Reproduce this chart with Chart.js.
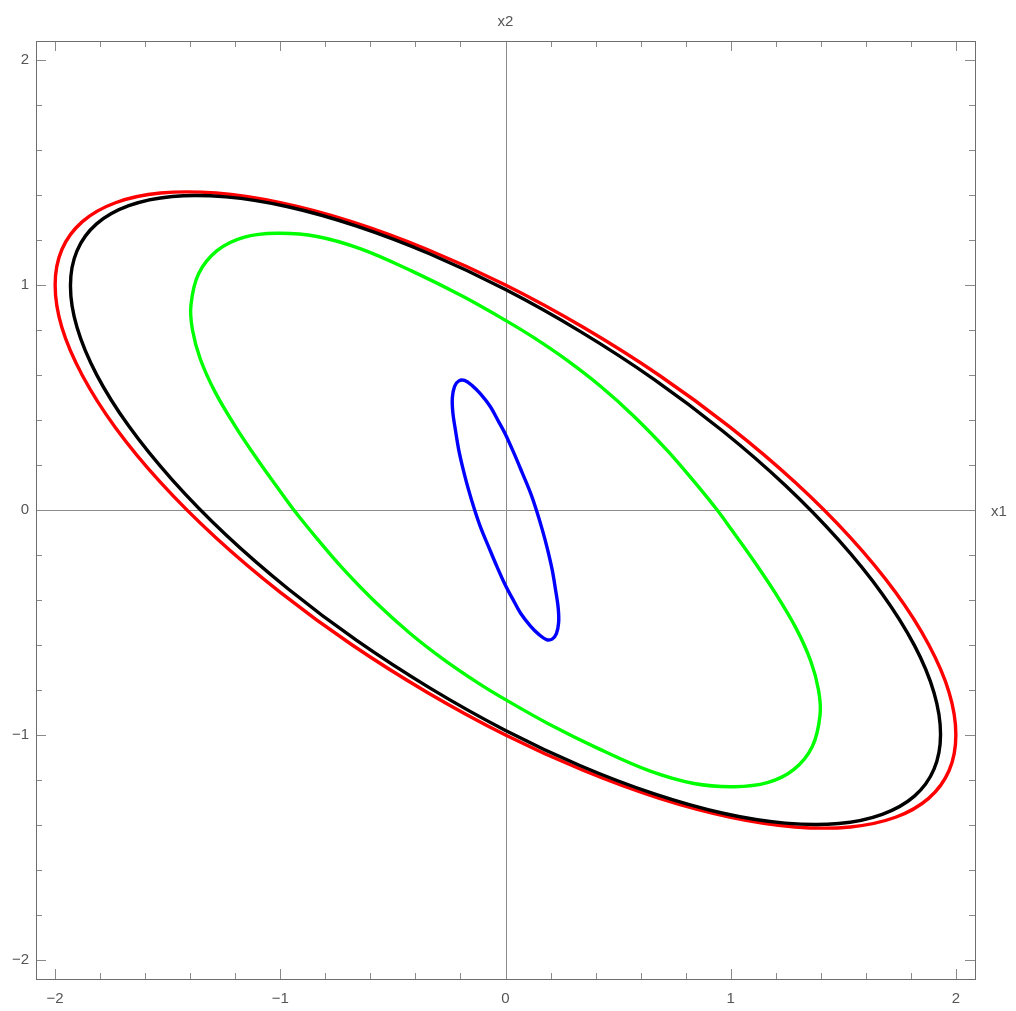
<!DOCTYPE html>
<html>
<head>
<meta charset="utf-8">
<script src="https://cdn.jsdelivr.net/npm/chart.js@4.4.1/dist/chart.umd.min.js"></script>
<style>
html,body{margin:0;padding:0;background:#ffffff;}
#wrap{width:1016px;height:1011px;}
</style>
</head>
<body>
<div id="wrap"><canvas id="c" width="1016" height="1011"></canvas></div>
<script>
// ---- data: [x1, x2] points along each closed curve ----
const redCurve = [
  [2.0,-1.0],[1.97,-0.811],[1.879,-0.598],[1.732,-0.366],[1.532,-0.123],[1.286,0.123],[1.0,0.366],[0.684,0.598],
  [0.347,0.811],[0.0,1.0],[-0.347,1.158],[-0.684,1.282],[-1.0,1.366],[-1.286,1.409],[-1.532,1.409],[-1.732,1.366],
  [-1.879,1.282],[-1.97,1.158],[-2.0,1.0],[-1.97,0.811],[-1.879,0.598],[-1.732,0.366],[-1.532,0.123],[-1.286,-0.123],
  [-1.0,-0.366],[-0.684,-0.598],[-0.347,-0.811],[0.0,-1.0],[0.347,-1.158],[0.684,-1.282],[1.0,-1.366],[1.286,-1.409],
  [1.532,-1.409],[1.732,-1.366],[1.879,-1.282],[1.97,-1.158]
];
const blackCurve = [
  [1.932,-0.997],[1.903,-0.812],[1.816,-0.602],[1.673,-0.373],[1.48,-0.134],[1.242,0.110],[0.966,0.350],[0.661,0.580],
  [0.335,0.792],[0.0,0.980],[-0.335,1.138],[-0.661,1.262],[-0.966,1.348],[-1.242,1.392],[-1.48,1.394],[-1.673,1.353],
  [-1.816,1.272],[-1.903,1.152],[-1.932,0.997],[-1.903,0.812],[-1.816,0.602],[-1.673,0.373],[-1.48,0.134],[-1.242,-0.110],
  [-0.966,-0.350],[-0.661,-0.580],[-0.335,-0.792],[0.0,-0.980],[0.335,-1.138],[0.661,-1.262],[0.966,-1.348],[1.242,-1.392],
  [1.48,-1.394],[1.673,-1.353],[1.816,-1.272],[1.903,-1.152]
];
const greenCurve = [
  [1.39,-0.80],[1.397,-0.91],[1.363,-1.05],[1.281,-1.153],[1.163,-1.212],[1.015,-1.23],[0.837,-1.216],[0.64,-1.16],
  [0.415,-1.062],[0.19,-0.95],[0.0,-0.843],[-0.126,-0.766],[-0.274,-0.665],[-0.422,-0.55],[-0.570,-0.417],
  [-0.719,-0.264],[-0.837,-0.127],[-0.94,0.0],[-1.0,0.082],[-1.1,0.222],[-1.2,0.372],[-1.29,0.525],[-1.355,0.67],
  [-1.39,0.80],[-1.397,0.91],[-1.363,1.05],[-1.281,1.153],[-1.163,1.212],[-1.015,1.23],[-0.837,1.216],[-0.64,1.16],
  [-0.415,1.062],[-0.19,0.95],[0.0,0.843],[0.126,0.766],[0.274,0.665],[0.422,0.55],[0.570,0.417],[0.719,0.264],
  [0.837,0.127],[0.94,0.0],[1.0,-0.082],[1.1,-0.222],[1.2,-0.372],[1.29,-0.525],[1.355,-0.67]
];
const blueCurve = [
  [-0.207,0.574],[-0.182,0.576],[-0.148,0.553],[-0.111,0.516],[-0.067,0.459],[-0.030,0.392],[0.0,0.336],[0.037,0.254],
  [0.074,0.166],[0.111,0.076],[0.137,0.0],[0.163,-0.086],[0.185,-0.168],[0.207,-0.264],[0.222,-0.353],[0.234,-0.435],
  [0.236,-0.50],[0.226,-0.55],[0.207,-0.574],[0.182,-0.576],[0.148,-0.553],[0.111,-0.516],[0.067,-0.459],[0.030,-0.392],
  [0.0,-0.336],[-0.037,-0.254],[-0.074,-0.166],[-0.111,-0.076],[-0.137,0.0],[-0.163,0.086],[-0.185,0.168],[-0.207,0.264],
  [-0.222,0.353],[-0.234,0.435],[-0.236,0.50],[-0.226,0.55]
];
const tickLabelValues = [-2, -1, 0, 1, 2];
const minorTickValues = [-1.8,-1.6,-1.4,-1.2,-0.8,-0.6,-0.4,-0.2,0.2,0.4,0.6,0.8,1.2,1.4,1.6,1.8];
const xAxisName = 'x1';
const yAxisName = 'x2';

// ---- styling ----
const FONT = "'Liberation Sans', Arial, sans-serif";
const LABEL_COLOR = '#555555';
const FRAME_COLOR = '#6e6e6e';
const TICK_COLOR = '#8a8a8a';
const AXIS_COLOR = '#8a8a8a';
const CLEAR = 'rgba(0,0,0,0)';

const fmt = v => (v < 0 ? '\u2212' + Math.abs(v) : String(v));

const framePlugin = {
  id: 'mmaFrame',
  beforeDatasetsDraw(chart) {
    const {ctx, chartArea: a, scales: {x, y}} = chart;
    ctx.save();
    ctx.strokeStyle = AXIS_COLOR;
    ctx.lineWidth = 1;
    const x0 = Math.round(x.getPixelForValue(0)) + 0.5;
    const y0 = Math.round(y.getPixelForValue(0)) + 0.5;
    ctx.beginPath();
    ctx.moveTo(x0, a.top); ctx.lineTo(x0, a.bottom);
    ctx.moveTo(a.left, y0); ctx.lineTo(a.right, y0);
    ctx.stroke();
    ctx.restore();
  },
  afterDatasetsDraw(chart) {
    const {ctx, chartArea: a, scales: {x, y}} = chart;
    ctx.save();
    ctx.lineWidth = 1;
    ctx.strokeStyle = TICK_COLOR;
    const drawTicks = (vals, len) => {
      ctx.beginPath();
      vals.forEach(v => {
        const px = Math.round(x.getPixelForValue(v)) + 0.5;
        ctx.moveTo(px, a.bottom); ctx.lineTo(px, a.bottom - len);
        ctx.moveTo(px, a.top); ctx.lineTo(px, a.top + len);
        const py = Math.round(y.getPixelForValue(v)) + 0.5;
        ctx.moveTo(a.left, py); ctx.lineTo(a.left + len, py);
        ctx.moveTo(a.right, py); ctx.lineTo(a.right - len, py);
      });
      ctx.stroke();
    };
    drawTicks(tickLabelValues, 10);
    drawTicks(minorTickValues, 6);
    ctx.strokeStyle = FRAME_COLOR;
    ctx.strokeRect(Math.round(a.left) + 0.5, Math.round(a.top) + 0.5,
                   Math.round(a.right - a.left), Math.round(a.bottom - a.top));
    ctx.restore();
  },
  afterDraw(chart) {
    const {ctx, chartArea: a, scales: {x, y}} = chart;
    ctx.save();
    ctx.fillStyle = LABEL_COLOR;
    ctx.font = '15px ' + FONT;
    ctx.textAlign = 'center';
    ctx.textBaseline = 'alphabetic';
    ctx.fillText(yAxisName, x.getPixelForValue(0), a.top - 15);
    ctx.textAlign = 'left';
    ctx.textBaseline = 'middle';
    ctx.fillText(xAxisName, a.right + 16, y.getPixelForValue(0) + 2);
    ctx.restore();
  }
};

// A closed curve: the points are wrapped with one neighbour on each side so the
// spline is smooth at the join; the two helper segments are left invisible.
const mkSet = (arr, color, order) => {
  const n = arr.length;
  const pts = [arr[n - 1]].concat(arr, [arr[0], arr[1]]).map(p => ({x: p[0], y: p[1]}));
  const lastIdx = pts.length - 1;
  return {
    data: pts,
    showLine: true,
    borderColor: color,
    backgroundColor: color,
    borderWidth: 3.4,
    pointRadius: 0,
    pointHoverRadius: 0,
    tension: 0.36,
    fill: false,
    order: order,
    segment: {
      borderColor: c => (c.p0DataIndex === 0 || c.p1DataIndex === lastIdx) ? CLEAR : color
    }
  };
};

new Chart(document.getElementById('c'), {
  type: 'scatter',
  data: {
    datasets: [
      mkSet(redCurve, '#ff0000', 4),
      mkSet(blackCurve, '#000000', 3),
      mkSet(greenCurve, '#00ff00', 2),
      mkSet(blueCurve, '#0000ff', 1)
    ]
  },
  options: {
    responsive: false,
    animation: false,
    devicePixelRatio: 1,
    layout: {padding: {top: 41, right: 41, left: 0, bottom: 0}},
    plugins: {legend: {display: false}, tooltip: {enabled: false}},
    scales: {
      x: {
        type: 'linear', position: 'bottom', min: -2.085, max: 2.085,
        grid: {display: false, drawTicks: false, tickLength: 0},
        border: {display: false},
        afterBuildTicks: s => { s.ticks = tickLabelValues.map(v => ({value: v})); },
        afterFit: s => { s.height = 32; },
        ticks: {callback: v => fmt(v), autoSkip: false, maxRotation: 0, padding: 11,
                color: LABEL_COLOR, font: {family: FONT, size: 15}}
      },
      y: {
        type: 'linear', position: 'left', min: -2.085, max: 2.085,
        grid: {display: false, drawTicks: false, tickLength: 0},
        border: {display: false},
        afterBuildTicks: s => { s.ticks = tickLabelValues.map(v => ({value: v})); },
        afterFit: s => { s.width = 36; },
        ticks: {callback: v => fmt(v), autoSkip: false, padding: 7,
                color: LABEL_COLOR, font: {family: FONT, size: 15}}
      }
    }
  },
  plugins: [framePlugin]
});
</script>
</body>
</html>
